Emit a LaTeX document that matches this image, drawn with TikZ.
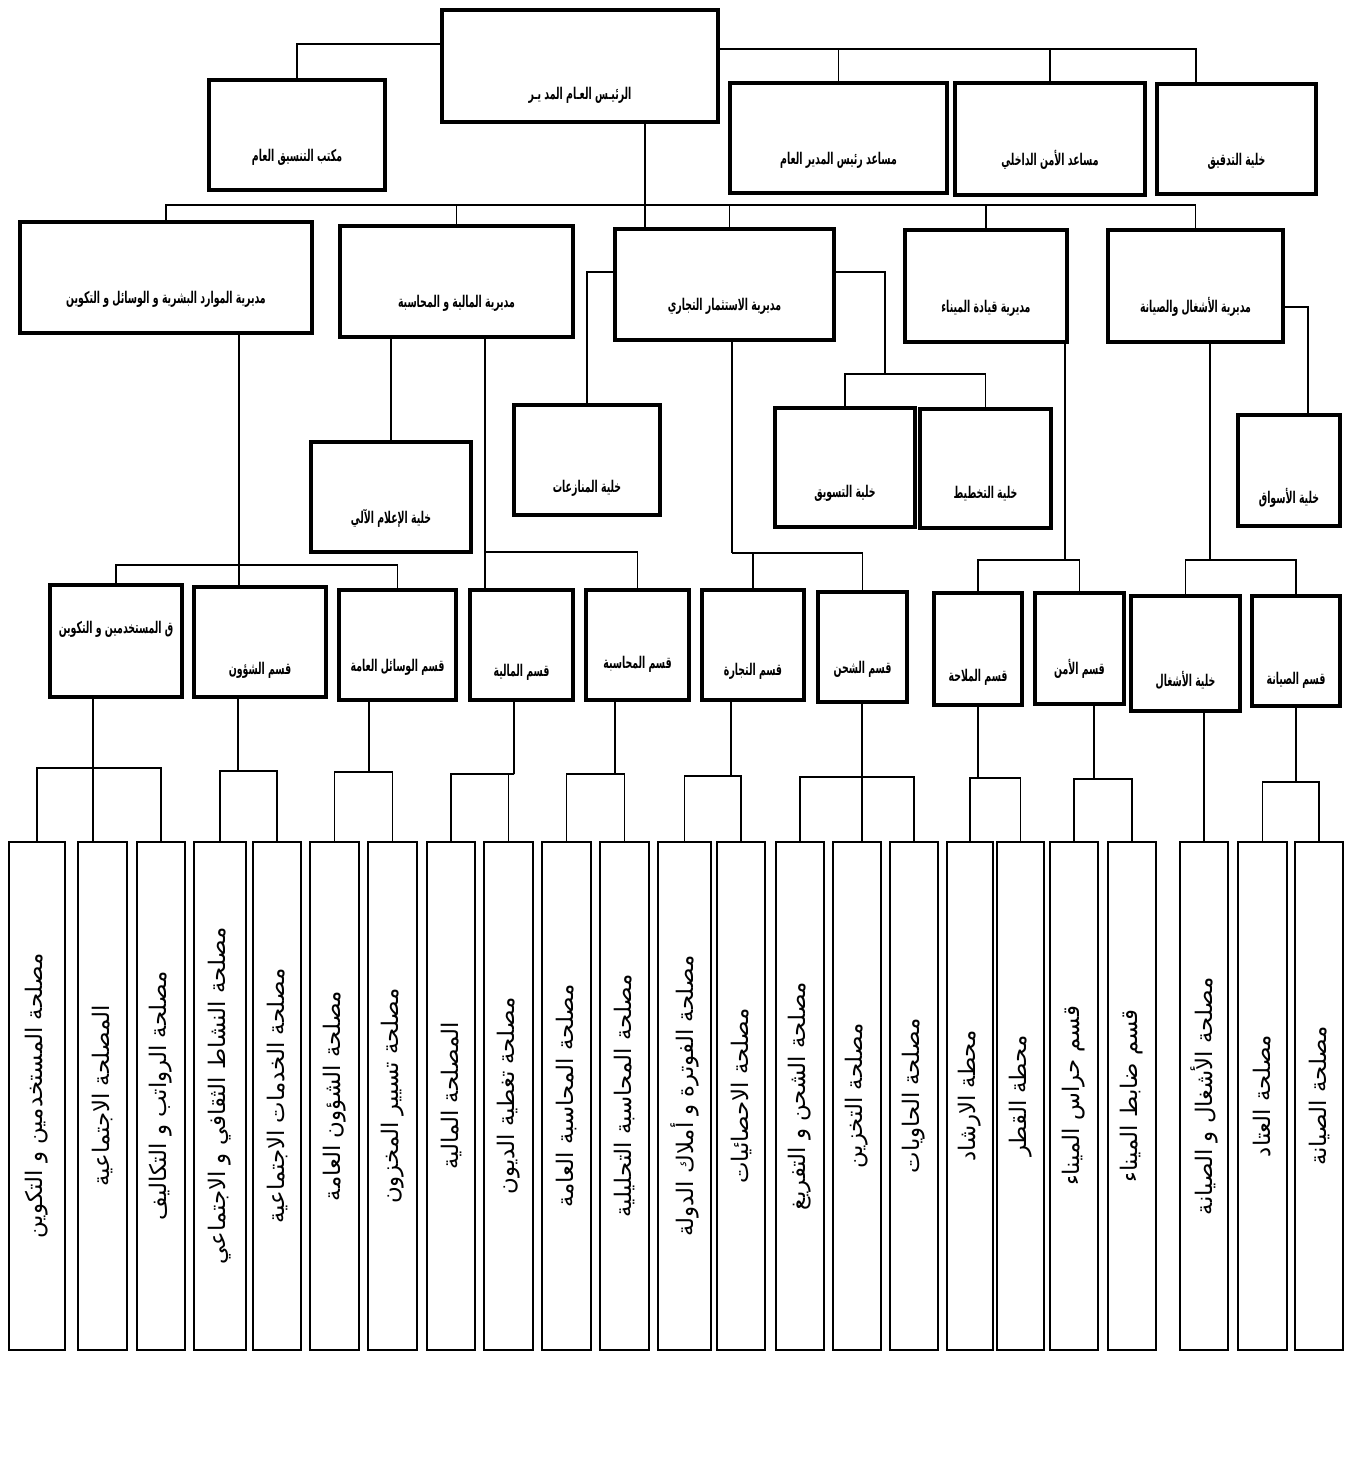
\documentclass[tikz,border=0pt]{standalone}
\usepackage{graphicx}
\usepackage{fontspec}
\usepackage{tikz}
\usetikzlibrary{positioning,calc}
\TeXXeTstate=1
\newfontfamily\arabicfont[Script=Arabic]{DejaVu Sans}
\newfontfamily\arabichead[Script=Arabic,FakeStretch=0.58]{DejaVu Sans}
\newcommand{\artxt}[1]{\beginR #1\endR}
\newcommand{\vtxt}[1]{\rotatebox{90}{\beginR #1\endR}}

\begin{document}
\begin{tikzpicture}[
    x=0.02cm, y=-0.02cm,
    box/.style={draw, line width=1.9pt, inner sep=1pt, text height=1.05cm, text depth=0pt,
        font=\arabichead\bfseries\fontsize{9.2}{11}\selectfont},
    col/.style={draw, line width=0.9pt, inner sep=0pt, minimum width=0.97cm, minimum height=10.16cm,
        font=\arabicfont\fontsize{13}{15}\selectfont},
    link/.style={line width=1pt}
]
\useasboundingbox (0,0) rectangle (1346,1461);

% general management
\node[box, minimum width=5.52cm, minimum height=2.24cm, text height=1.36cm] (gm) at (580,66) {\artxt{الرئيـس العـام المد يـر}};
\node[box, minimum width=3.52cm, minimum height=2.2cm] (office) at (297,135) {\artxt{مكتب التنسيق العام}};
\node[box, minimum width=4.34cm, minimum height=2.2cm] (assist) at (838.5,138) {\artxt{مساعد رئيس المدير العام}};
\node[box, minimum width=3.8cm, minimum height=2.24cm] (security) at (1050,139) {\artxt{مساعد الأمن الداخلي}};
\node[box, minimum width=3.18cm, minimum height=2.2cm] (audit) at (1236.5,139) {\artxt{خلية التدقيق}};

% directorates
\node[box, minimum width=5.84cm, minimum height=2.22cm] (hr) at (166,277.5) {\artxt{مديرية الموارد البشرية و الوسائل و التكوين}};
\node[box, minimum width=4.66cm, minimum height=2.22cm] (fin) at (456.5,281.5) {\artxt{مديرية المالية و المحاسبة}};
\node[box, minimum width=4.38cm, minimum height=2.22cm] (comm) at (724.5,284.5) {\artxt{مديرية الاستثمار التجاري}};
\node[box, minimum width=3.24cm, minimum height=2.24cm] (port) at (986,286) {\artxt{مديرية قيادة الميناء}};
\node[box, minimum width=3.5cm, minimum height=2.24cm] (works) at (1195.5,286) {\artxt{مديرية الأشغال والصيانة}};

% cells
\node[box, minimum width=3.2cm, minimum height=2.2cm] (ilam) at (391,497) {\artxt{خلية الإعلام الآلي}};
\node[box, minimum width=2.92cm, minimum height=2.2cm, text height=1.3cm] (disputes) at (587,460) {\artxt{خلية المنازعات}};
\node[box, minimum width=2.8cm, minimum height=2.38cm, text height=1.2cm] (marketing) at (845,467.5) {\artxt{خلية التسويق}};
\node[box, minimum width=2.62cm, minimum height=2.38cm, text height=1.2cm] (planning) at (985.5,468.5) {\artxt{خلية التخطيط}};
\node[box, minimum width=2.04cm, minimum height=2.22cm, text height=1.3cm] (markets) at (1289,470.5) {\artxt{خلية الأسواق}};

% sections
\node[box, minimum width=2.64cm, minimum height=2.24cm, text height=0pt, text depth=0.3cm] (s1) at (116,641) {\artxt{ق المستخدمين و التكوين}};
\node[box, minimum width=2.64cm, minimum height=2.2cm, text height=1.3cm] (s2) at (260,642) {\artxt{قسم الشؤون}};
\node[box, minimum width=2.34cm, minimum height=2.2cm] (s3) at (397.5,645) {\artxt{قسم الوسائل العامة}};
\node[box, minimum width=2.06cm, minimum height=2.2cm, text height=1.25cm] (s4) at (521.5,645) {\artxt{قسم المالية}};
\node[box, minimum width=2.06cm, minimum height=2.2cm, text height=0.95cm] (s5) at (637.5,645) {\artxt{قسم المحاسبة}};
\node[box, minimum width=2.04cm, minimum height=2.2cm, text height=1.2cm] (s6) at (753,645) {\artxt{قسم التجارة}};
\node[box, minimum width=1.78cm, minimum height=2.2cm] (s7) at (862.5,647) {\artxt{قسم الشحن}};
\node[box, minimum width=1.76cm, minimum height=2.24cm, text height=1.3cm] (s8) at (978,649) {\artxt{قسم الملاحة}};
\node[box, minimum width=1.78cm, minimum height=2.22cm] (s9) at (1079.5,648.5) {\artxt{قسم الأمن}};
\node[box, minimum width=2.18cm, minimum height=2.3cm, text height=1.3cm] (s10) at (1185.5,653.5) {\artxt{خلية الأشغال}};
\node[box, minimum width=1.76cm, minimum height=2.2cm, text height=1.35cm] (s11) at (1296,651) {\artxt{قسم الصيانة}};

% services
\node[col, minimum width=1.12cm] (c1) at (37,1096) {\vtxt{مصلحة المستخدمين و التكوين}};
\node[col] (c2) at (102.5,1096) {\vtxt{المصلحة الاجتماعية}};
\node[col] (c3) at (161,1096) {\vtxt{مصلحة الرواتب و التكاليف}};
\node[col, minimum width=1.04cm] (c4) at (220,1096) {\vtxt{مصلحة النشاط الثقافي و الاجتماعي}};
\node[col] (c5) at (277,1096) {\vtxt{مصلحة الخدمات الاجتماعية}};
\node[col] (c6) at (334.5,1096) {\vtxt{مصلحة الشؤون العامة}};
\node[col] (c7) at (392.5,1096) {\vtxt{مصلحة تسيير المخزون}};
\node[col] (c8) at (451,1096) {\vtxt{المصلحة المالية}};
\node[col] (c9) at (508.5,1096) {\vtxt{مصلحة تغطية الديون}};
\node[col] (c10) at (566.5,1096) {\vtxt{مصلحة المحاسبة العامة}};
\node[col] (c11) at (624.5,1096) {\vtxt{مصلحة المحاسبة التحليلية}};
\node[col, minimum width=1.06cm] (c12) at (684.5,1096) {\vtxt{مصلحة الفوترة و أملاك الدولة}};
\node[col] (c13) at (741,1096) {\vtxt{مصلحة الاحصائيات}};
\node[col] (c14) at (800,1096) {\vtxt{مصلحة الشحن و التفريغ}};
\node[col] (c15) at (857,1096) {\vtxt{مصلحة التخزين}};
\node[col] (c16) at (914,1096) {\vtxt{مصلحة الحاويات}};
\node[col, minimum width=0.92cm] (c17) at (970,1096) {\vtxt{محطة الارشاد}};
\node[col, minimum width=0.94cm] (c18) at (1020.5,1096) {\vtxt{محطة القطر}};
\node[col] (c19) at (1074,1096) {\vtxt{قسم حراس الميناء}};
\node[col] (c20) at (1132,1096) {\vtxt{قسم ضابط الميناء}};
\node[col] (c21) at (1204,1096) {\vtxt{مصلحة الأشغال و الصيانة}};
\node[col] (c22) at (1262.5,1096) {\vtxt{مصلحة العتاد}};
\node[col] (c23) at (1319,1096) {\vtxt{مصلحة الصيانة}};

% links: top level
\coordinate (tbus) at (1196,49);
\draw[link] ([yshift=0.44cm]gm.west) -| (office.north);
\draw[link] (gm.east |- tbus) -- (tbus) -- (tbus |- audit.north);
\draw[link] (assist.north) -- (assist.north |- tbus);
\draw[link] (security.north) -- (security.north |- tbus);

% links: directorates
\coordinate (dbus) at (600,205);
\draw[link] (hr.north) |- (dbus) -| (works.north);
\draw[link] (fin.north) -- (fin.north |- dbus);
\draw[link] (port.north) -- (port.north |- dbus);
\draw[link] ([xshift=0.1cm]comm.north) -- ([xshift=0.1cm]comm.north |- dbus);
\draw[link] ([xshift=1.3cm]gm.south) -- ([xshift=1.3cm]gm.south |- comm.north);

% links: cells
\coordinate (mk) at (885,374);
\coordinate (ak) at (1308,307);
\draw[link] ([yshift=0.25cm]comm.west) -| (disputes.north);
\draw[link] ([yshift=0.25cm]comm.east) -| (mk);
\draw[link] (marketing.north) |- (mk) -| (planning.north);
\draw[link] (ilam.north |- fin.south) -- (ilam.north);
\draw[link] ([yshift=-0.42cm]works.east) -- (ak) -- (ak |- markets.north);

% links: sections
\coordinate (hk) at (239,565);
\coordinate (fk) at (485,552);
\coordinate (ck) at (732,553);
\coordinate (pk) at (1065,560);
\coordinate (wk) at (1210,560);
\draw[link] (hk |- hr.south) -- (hk |- s2.north);
\draw[link] (s1.north) |- (hk) -| (s3.north);
\draw[link] (fk |- fin.south) -- (fk |- s4.north);
\draw[link] (fk) -| (s5.north);
\draw[link] (ck |- comm.south) -- (ck);
\draw[link] (s6.north) |- (ck) -| (s7.north);
\draw[link] (pk |- port.south) -- (pk);
\draw[link] (s8.north) |- (pk) -| (s9.north);
\draw[link] (wk |- works.south) -- (wk);
\draw[link] (s10.north) |- (wk) -| (s11.north);

% links: services
\coordinate (k1) at (93,768);
\coordinate (k2) at (238,771);
\coordinate (k3) at (369,772);
\coordinate (k4) at (514,774);
\coordinate (k5) at (615,774);
\coordinate (k6) at (731,776);
\coordinate (k7) at (862,777);
\coordinate (k8) at (978,778);
\coordinate (k9) at (1094,779);
\coordinate (k11) at (1296,782);
\draw[link] (k1 |- s1.south) -- (k1 |- c2.north);
\draw[link] (c1.north) |- (k1) -| (c3.north);
\draw[link] (k2 |- s2.south) -- (k2);
\draw[link] (c4.north) |- (k2) -| (c5.north);
\draw[link] (k3 |- s3.south) -- (k3);
\draw[link] (c6.north) |- (k3) -| (c7.north);
\draw[link] (k4 |- s4.south) -- (k4);
\draw[link] (c8.north) |- (k4) -| (c9.north);
\draw[link] (k5 |- s5.south) -- (k5);
\draw[link] (c10.north) |- (k5) -| (c11.north);
\draw[link] (k6 |- s6.south) -- (k6);
\draw[link] (c12.north) |- (k6) -| (c13.north);
\draw[link] (k7 |- s7.south) -- (k7 |- c15.north);
\draw[link] (c14.north) |- (k7) -| (c16.north);
\draw[link] (k8 |- s8.south) -- (k8);
\draw[link] (c17.north) |- (k8) -| (c18.north);
\draw[link] (k9 |- s9.south) -- (k9);
\draw[link] (c19.north) |- (k9) -| (c20.north);
\draw[link] (c21.north |- s10.south) -- (c21.north);
\draw[link] (k11 |- s11.south) -- (k11);
\draw[link] (c22.north) |- (k11) -| (c23.north);
\end{tikzpicture}
\end{document}
